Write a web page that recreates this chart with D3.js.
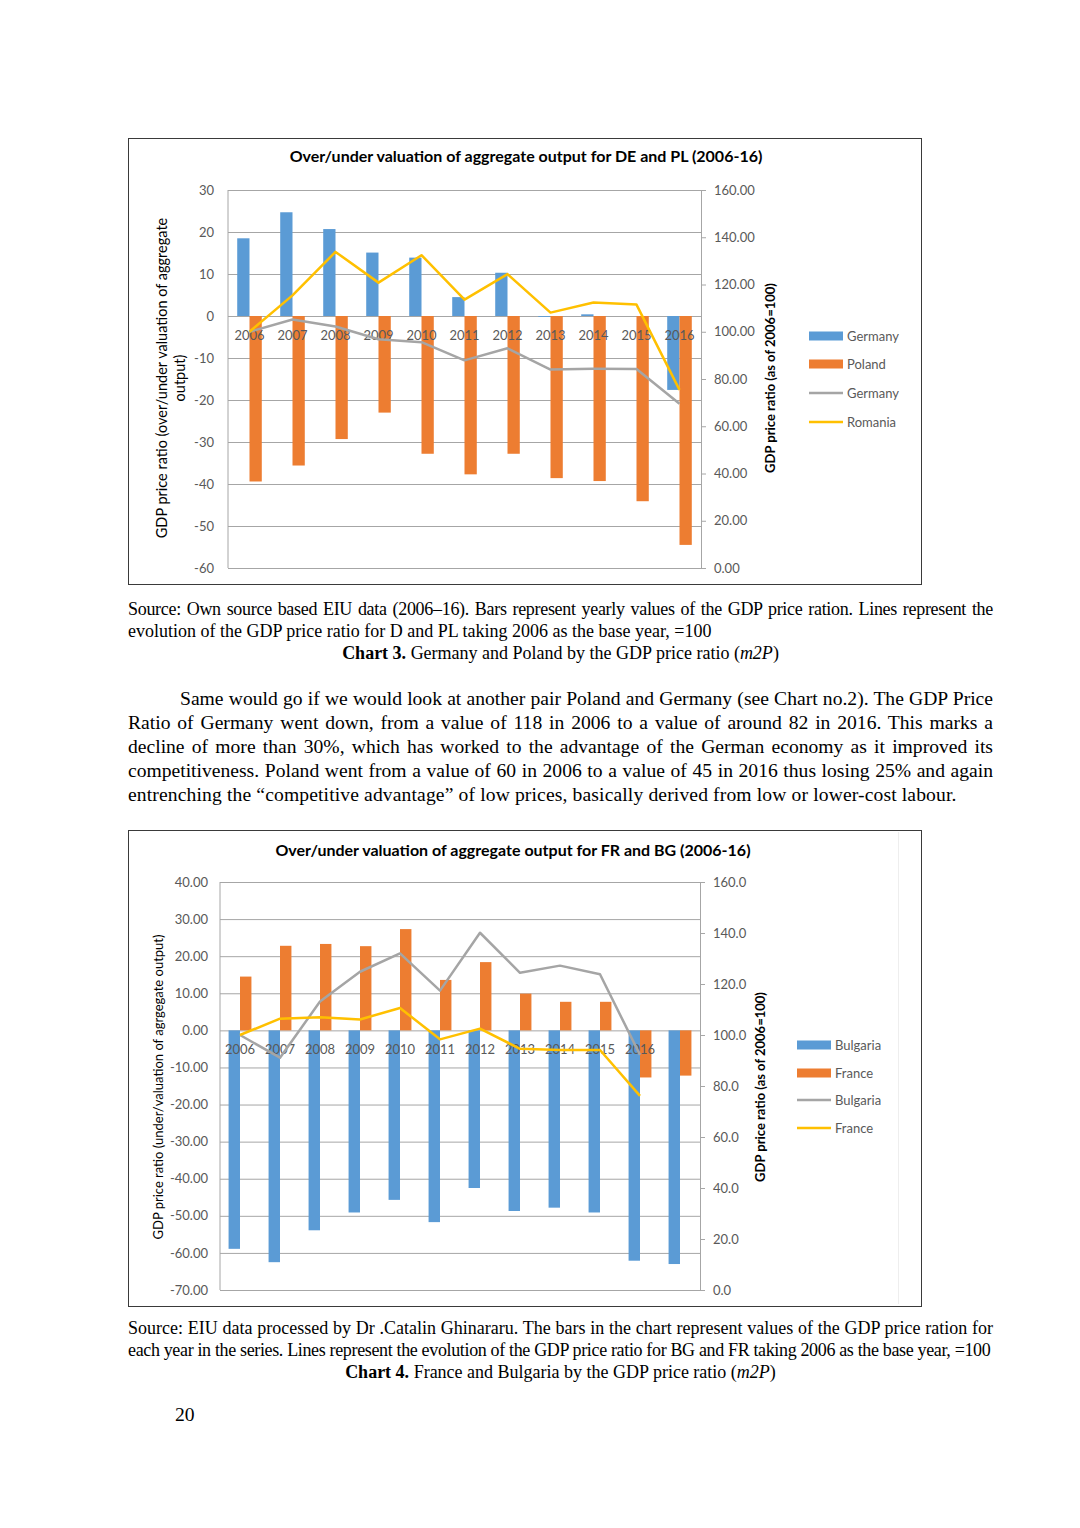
<!DOCTYPE html>
<html>
<head>
<meta charset="utf-8">
<script src="https://cdn.jsdelivr.net/npm/d3@7"></script>
<style>
body { margin: 0; background: #fff; }
#page { position: relative; width: 1080px; height: 1528px; overflow: hidden;
        font-family: "Liberation Serif", "Times New Roman", serif; color: #000; }
#page svg { position: absolute; left: 0; top: 0; }
.ln { position: absolute; left: 128px; width: 865px; white-space: nowrap; }
.just { text-align: justify; text-align-last: justify; }
.cap { font-size: 18px; line-height: 22px; }
.par { font-size: 19.6px; line-height: 24px; }
.ctr { text-align: center; }
</style>
</head>
<body>
<div id="page"></div>
<script>
// chart 3 - Germany / Poland
const years1 = ['2006','2007','2008','2009','2010','2011','2012','2013','2014','2015','2016'];
const deBars = [18.5, 24.7, 20.7, 15.1, 13.9, 4.5, 10.3, -0.2, 0.4, 0, -17.6];
const plBars = [-39.4, -35.6, -29.3, -23.0, -32.8, -37.7, -32.8, -38.6, -39.3, -44.1, -54.5];
const deLine = [100, 105.2, 102.2, 96.8, 95.6, 87.9, 93.0, 84.0, 84.3, 84.2, 69.5];
const roLine = [100, 115.4, 133.8, 120.8, 132.4, 113.6, 124.4, 108.1, 112.4, 111.5, 75.4];
const ticksL1 = [30, 20, 10, 0, -10, -20, -30, -40, -50, -60];

// chart 4 - France / Bulgaria (12th group has no label)
const years2 = ['2006','2007','2008','2009','2010','2011','2012','2013','2014','2015','2016',''];
const bgBars = [-58.9, -62.5, -53.9, -49.1, -45.7, -51.7, -42.5, -48.7, -47.8, -49.1, -62.1, -63.0];
const frBars = [14.5, 22.8, 23.3, 22.7, 27.3, 13.6, 18.4, 9.9, 7.7, 7.7, -12.7, -12.2];
const bgLine = [100, 91.1, 113.1, 124.8, 132.0, 117.4, 140.1, 124.4, 127.2, 123.8, 92.2];
const frLine = [100, 106.4, 107.0, 106.1, 110.6, 98.3, 102.5, 94.6, 94.1, 94.1, 76.1];
const ticksL2 = [40, 30, 20, 10, 0, -10, -20, -30, -40, -50, -60, -70];

const ticksR = [0, 20, 40, 60, 80, 100, 120, 140, 160];

const BLUE = '#5b9bd5', ORANGE = '#ed7d31', GREY = '#a5a5a5', YELLOW = '#ffc000';
const FONT = 'Lato, "Open Sans", sans-serif';

const page = d3.select('#page');
const svg = page.append('svg').attr('width', 1080).attr('height', 1528);

// plain hyphen for negatives, like the original
const fixed = n => (d => d.toFixed(n));

function drawChart(o) {
  const g = svg.append('g').attr('font-family', FONT);

  g.append('rect')
    .attr('x', o.box[0] + 0.5).attr('y', o.box[1] + 0.5)
    .attr('width', o.box[2] - o.box[0]).attr('height', o.box[3] - o.box[1])
    .attr('fill', '#fff').attr('stroke', '#3a3a3a').attr('stroke-width', 1);

  if (o.innerLine) {
    g.append('line').attr('x1', o.innerLine + 0.5).attr('x2', o.innerLine + 0.5)
      .attr('y1', o.box[1] + 2).attr('y2', o.box[3] - 2)
      .attr('stroke', '#eeeeee');
  }

  g.append('text').attr('x', o.titleX).attr('y', o.titleY)
    .attr('text-anchor', 'middle').attr('font-size', 16).attr('font-weight', 'bold')
    .attr('fill', '#000').text(o.title);

  const x = d3.scaleBand().domain(o.cats).range([o.left, o.right]);
  const xs = d3.scaleBand().domain([0, 1]).range([0, x.bandwidth()]).paddingOuter(0.75);
  const yL = d3.scaleLinear().domain(o.lDomain).range([o.bottom, o.top]);
  const yR = d3.scaleLinear().domain([0, 160]).range([o.bottom, o.top]);

  // gridlines + left labels
  const ga = g.append('g').attr('transform', `translate(${o.left},0)`)
    .call(d3.axisLeft(yL).tickValues(o.lTicks).tickSize(-(o.right - o.left))
      .tickPadding(o.lPad).tickFormat(o.lFmt));
  ga.select('.domain').remove();
  ga.selectAll('line').attr('stroke', '#a6a6a6');
  ga.selectAll('text').attr('fill', '#595959').attr('font-size', 13).attr('font-family', FONT);

  g.append('line').attr('x1', o.left).attr('x2', o.left).attr('y1', o.top).attr('y2', o.bottom)
    .attr('stroke', '#a6a6a6');

  // right axis
  const gr = g.append('g').attr('transform', `translate(${o.right},0)`)
    .call(d3.axisRight(yR).tickValues(ticksR).tickSize(5).tickSizeOuter(0)
      .tickPadding(8).tickFormat(o.rFmt));
  gr.select('.domain').attr('stroke', '#a6a6a6');
  gr.selectAll('line').attr('stroke', '#a6a6a6');
  gr.selectAll('text').attr('fill', '#595959').attr('font-size', 13).attr('font-family', FONT);

  // bars
  o.bars.forEach((s, si) => {
    g.append('g').selectAll('rect').data(s.values).enter().append('rect')
      .attr('x', (d, i) => x(o.cats[i]) + xs(si))
      .attr('width', xs.bandwidth())
      .attr('y', d => Math.min(yL(d), yL(0)))
      .attr('height', d => Math.abs(yL(d) - yL(0)))
      .attr('fill', s.color);
  });

  // category labels
  g.append('g').selectAll('text').data(o.cats).enter().append('text')
    .attr('x', d => x(d) + x.bandwidth() / 2)
    .attr('y', yL(0) + 24)
    .attr('text-anchor', 'middle').attr('font-size', 13).attr('fill', '#595959')
    .text(d => d);

  // lines
  o.lines.forEach(s => {
    const line = d3.line()
      .x((d, i) => x(o.cats[i]) + x.bandwidth() / 2)
      .y(d => yR(d));
    g.append('path').datum(s.values).attr('d', line)
      .attr('fill', 'none').attr('stroke', s.color).attr('stroke-width', 2.5)
      .attr('stroke-linejoin', 'round');
  });

  // axis titles
  o.leftTitle.forEach(t => {
    g.append('text').attr('transform', `translate(${t.x},${o.titleMid}) rotate(-90)`)
      .attr('text-anchor', 'middle').attr('dy', '0.35em')
      .attr('font-size', o.leftTitleSize).attr('fill', '#000').text(t.text);
  });
  g.append('text').attr('transform', `translate(${o.rightTitleX},${o.titleMid}) rotate(-90)`)
    .attr('text-anchor', 'middle').attr('dy', '0.35em')
    .attr('font-size', 13).attr('font-weight', 'bold').attr('fill', '#000')
    .text('GDP price ratio (as of 2006=100)');

  // legend
  const items = o.bars.map(s => ({ name: s.name, color: s.color, bar: true }))
    .concat(o.lines.map(s => ({ name: s.name, color: s.color, bar: false })));
  items.forEach((it, i) => {
    const cy = o.legY[i];
    if (it.bar) {
      g.append('rect').attr('x', o.legX).attr('y', cy - 4.5).attr('width', 34).attr('height', 9)
        .attr('fill', it.color);
    } else {
      g.append('line').attr('x1', o.legX).attr('x2', o.legX + 34).attr('y1', cy).attr('y2', cy)
        .attr('stroke', it.color).attr('stroke-width', 2.5);
    }
    g.append('text').attr('x', o.legX + 38).attr('y', cy).attr('dy', '0.35em')
      .attr('font-size', 13).attr('fill', '#595959').text(it.name);
  });
}

drawChart({
  box: [128, 138, 921, 584],
  title: 'Over/under valuation of aggregate output for DE and PL (2006-16)',
  titleX: 526, titleY: 162,
  cats: years1, left: 228, right: 701, top: 190, bottom: 568,
  lDomain: [-60, 30], lTicks: ticksL1, lFmt: fixed(0), lPad: 14,
  rFmt: fixed(2),
  bars: [{ name: 'Germany', color: BLUE, values: deBars },
         { name: 'Poland', color: ORANGE, values: plBars }],
  lines: [{ name: 'Germany', color: GREY, values: deLine },
          { name: 'Romania', color: YELLOW, values: roLine }],
  leftTitle: [{ x: 162, text: 'GDP price ratio (over/under valuation of aggregate' },
              { x: 180, text: 'output)' }],
  leftTitleSize: 14.5,
  rightTitleX: 770, titleMid: 378,
  legX: 809, legY: [336, 364, 393, 422]
});

drawChart({
  box: [128, 830, 921, 1306],
  innerLine: 898,
  title: 'Over/under valuation of aggregate output for FR and BG (2006-16)',
  titleX: 513, titleY: 856,
  cats: years2, left: 220, right: 700, top: 882, bottom: 1290,
  lDomain: [-70, 40], lTicks: ticksL2, lFmt: fixed(2), lPad: 12,
  rFmt: fixed(1),
  bars: [{ name: 'Bulgaria', color: BLUE, values: bgBars },
         { name: 'France', color: ORANGE, values: frBars }],
  lines: [{ name: 'Bulgaria', color: GREY, values: bgLine },
          { name: 'France', color: YELLOW, values: frLine }],
  leftTitle: [{ x: 158, text: 'GDP price ratio (under/valuation of agrgegate output)' }],
  leftTitleSize: 13,
  rightTitleX: 760, titleMid: 1087,
  legX: 797, legY: [1045, 1073, 1100, 1128]
});

// page text
function textLine(top, cls, html, extra) {
  const d = page.append('div').attr('class', 'ln ' + cls).style('top', top + 'px').html(html);
  if (extra) Object.keys(extra).forEach(k => d.style(k, extra[k]));
  return d;
}

textLine(598, 'cap just', 'Source: Own source based EIU data (2006–16). Bars represent yearly values of the GDP price ration. Lines represent the',
  { 'letter-spacing': '-0.3px' });
textLine(620, 'cap', 'evolution of the GDP price ratio for D and PL taking 2006 as the base year, =100');
textLine(642, 'cap ctr', '<b>Chart 3.</b> Germany and Poland by the GDP price ratio (<i>m2P</i>)');

textLine(687, 'par just', 'Same would go if we would look at another pair Poland and Germany (see Chart no.2). The GDP Price',
  { left: '180px', width: '813px' });
textLine(711, 'par just', 'Ratio of Germany went down, from a value of 118 in 2006 to a value of around 82 in 2016. This marks a');
textLine(735, 'par just', 'decline of more than 30%, which has worked to the advantage of the German economy as it improved its');
textLine(759, 'par just', 'competitiveness. Poland went from a value of 60 in 2006 to a value of 45 in 2016 thus losing 25% and again');
textLine(783, 'par', 'entrenching the “competitive advantage” of low prices, basically derived from low or lower-cost labour.',
  { 'letter-spacing': '0.13px' });

textLine(1317, 'cap just', 'Source: EIU data processed by Dr .Catalin Ghinararu. The bars in the chart represent values of the GDP price ration for');
textLine(1339, 'cap', 'each year in the series. Lines represent the evolution of the GDP price ratio for BG and FR taking 2006 as the base year, =100',
  { 'letter-spacing': '-0.35px' });
textLine(1361, 'cap ctr', '<b>Chart 4.</b> France and Bulgaria by the GDP price ratio (<i>m2P</i>)');

textLine(1403, 'par', '20', { left: '175px', width: '40px' });
</script>
</body>
</html>
